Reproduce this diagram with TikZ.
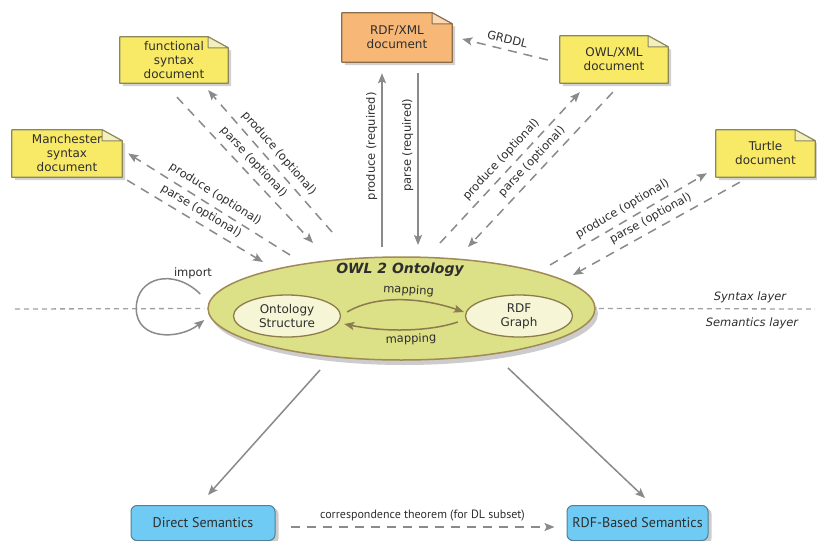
\documentclass[tikz,border=0pt]{standalone}
\usepackage{fontspec}
\setmainfont{DejaVu Sans}[ItalicFont={DejaVu Sans Oblique},BoldFont={DejaVu Sans Bold},BoldItalicFont={DejaVu Sans Bold Oblique}]
\newfontfamily\ptsans{PT Sans}
\usetikzlibrary{arrows.meta,shapes.geometric,backgrounds}
\definecolor{docfill}{HTML}{F8EA66}
\definecolor{docline}{HTML}{8C8758}
\definecolor{foldfill}{HTML}{F4F0BE}
\definecolor{rdffill}{HTML}{F7B877}
\definecolor{rdfline}{HTML}{8A6D4D}
\definecolor{rdffold}{HTML}{FAD9B4}
\definecolor{ontofill}{HTML}{DCE086}
\definecolor{ontoline}{HTML}{A08A55}
\definecolor{innerfill}{HTML}{F6F6D6}
\definecolor{innerline}{HTML}{8E7C4C}
\definecolor{mapcol}{HTML}{8C7A50}
\definecolor{semfill}{HTML}{6FCBF3}
\definecolor{semline}{HTML}{527F98}
\definecolor{conn}{HTML}{8A8A8A}
\definecolor{layer}{HTML}{A0A0A0}
\definecolor{ink}{HTML}{2E2E2E}
\newcommand\mydocshape[4]{%
  \fill[black,opacity=.18] ([shift={(3,3)}]#1.south west) -- ([shift={(3,3)}]#1.north west) -- ([shift={(-17,3)}]#1.north east) -- ([shift={(3,14)}]#1.north east) -- ([shift={(3,3)}]#1.south east) -- cycle;
  \filldraw[fill=#2, draw=#3, line width=1.2pt, line join=round] (#1.south west) -- (#1.north west) -- ([xshift=-20pt]#1.north east) -- ([yshift=-11pt]#1.north east) -- (#1.south east) -- cycle;
  \filldraw[fill=#4, draw=#3, line width=1pt, line join=round] ([xshift=-20pt]#1.north east) -- ([xshift=-20pt,yshift=-11pt]#1.north east) -- ([yshift=-11pt]#1.north east) -- cycle;
}
\begin{document}
\begin{tikzpicture}[x=1pt,y=-1pt,
  lbl/.style={font=\fontsize{11.5}{13}\selectfont, text=ink},
  doctxt/.style={font=\fontsize{12}{14}\selectfont, text=ink, align=center, inner sep=0pt},
  optline/.style={draw=conn, line width=1.5pt, dash pattern=on 9pt off 7pt},
  reqline/.style={draw=conn, line width=1.5pt},
  mapline/.style={draw=mapcol, line width=1.5pt},
  layerline/.style={draw=layer, line width=1.3pt, dash pattern=on 5pt off 4pt},
  tip/.style={-{Stealth[length=10pt,width=8pt,inset=2pt]}},
  semantic/.style={rounded corners=6pt, fill=semfill, draw=semline, line width=1pt, text=ink, font=\ptsans\fontsize{14}{16}\selectfont},
  inner/.style={ellipse, inner sep=0pt, fill=innerfill, draw=innerline, line width=1.3pt, doctxt}
]
\useasboundingbox (0,0) rectangle (817,541);
% layer separator
\coordinate (layL) at (15,309);
\coordinate (layR) at (815,309);
\node[ellipse, minimum width=387pt, minimum height=103pt, inner sep=0pt, fill=ontofill, draw=ontoline, line width=1.5pt] (onto) at (401.5,308.5) {};
\draw[layerline] (layL) -- ([xshift=-3pt]onto.west);
\draw[layerline] ([xshift=3pt]onto.east) -- (layR);
\node[font=\itshape\fontsize{11.5}{13}\selectfont, text=ink] (syn) at (750,297) {Syntax layer};
\node[font=\itshape\fontsize{11.5}{13}\selectfont, text=ink] (sem) at (752,323) {Semantics layer};

% documents
\node[doctxt, minimum width=108pt, minimum height=46pt] (fun) at (174,60) {functional\\syntax\\document};
\node[doctxt, minimum width=110pt, minimum height=47pt] (man) at (67,153.5) {Manchester\\syntax\\document};
\node[doctxt, minimum width=110pt, minimum height=49pt] (rdfx) at (397,37.5) {RDF/XML\\document};
\node[doctxt, minimum width=108pt, minimum height=47pt] (owx) at (614,59.5) {OWL/XML\\document};
\node[doctxt, minimum width=99pt, minimum height=47pt] (tur) at (765.5,153.5) {Turtle\\document};

% ontology
\node[font=\bfseries\itshape\fontsize{14}{16}\selectfont, text=ink] (title) at (400,270) {OWL 2 Ontology};
\node[inner, minimum width=107pt, minimum height=42pt] (os) at (287,316) {Ontology\\Structure};
\node[inner, minimum width=107pt, minimum height=42pt] (rdfg) at (519,316) {RDF\\Graph};

% semantics
\node[semantic, minimum width=144pt, minimum height=35pt] (ds) at (203,523) {Direct Semantics};
\node[semantic, minimum width=141pt, minimum height=35pt] (rs) at (637.5,523) {RDF-Based Semantics};

\begin{scope}[on background layer]
  \mydocshape{fun}{docfill}{docline}{foldfill}
  \mydocshape{man}{docfill}{docline}{foldfill}
  \mydocshape{rdfx}{rdffill}{rdfline}{rdffold}
  \mydocshape{owx}{docfill}{docline}{foldfill}
  \mydocshape{tur}{docfill}{docline}{foldfill}
  \fill[black,opacity=.2] ([shift={(3,5)}]onto.center) ellipse [x radius=193.5, y radius=51.5];
  \fill[black,opacity=.2,rounded corners=6pt] ([shift={(3,3)}]ds.south west) rectangle ([shift={(3,3)}]ds.north east);
  \fill[black,opacity=.2,rounded corners=6pt] ([shift={(3,3)}]rs.south west) rectangle ([shift={(3,3)}]rs.north east);
\end{scope}

% import loop
\draw[reqline, tip] ([shift={(-7,-14.5)}]onto.west) .. controls +(-26,-26) and +(0,-32) .. ([shift={(-71,0)}]onto.west)
  .. controls +(0,32) and +(-25,20) .. ([shift={(-3,11.5)}]onto.west);
\node[lbl] (imp) at (193,273) {import};

% mapping
\draw[mapline, tip] ([shift={(6,-4)}]os.east) .. controls +(30,-18) and +(-40,-14) .. ([shift={(-1,-4)}]rdfg.west)
  node[lbl, pos=.55, sloped, above=0pt] {mapping};
\draw[mapline, tip] ([shift={(-7,6)}]rdfg.west) .. controls +(-30,10) and +(40,8) .. ([shift={(3,8)}]os.east)
  node[lbl, pos=.45, sloped, below=0pt] {mapping};

% functional
\draw[optline, tip] ([shift={(-69.5,-76.5)}]onto.center) -- ([shift={(-20,7)}]fun.south east)
  node[lbl, midway, sloped, above=2pt] {produce (optional)};
\draw[optline, tip] ([shift={(3,14)}]fun.south) -- ([shift={(-88.5,-65.5)}]onto.center)
  node[lbl, midway, sloped, above=2pt] {parse (optional)};
% manchester
\draw[optline, tip] ([shift={(-111.5,-53.5)}]onto.center) -- ([shift={(6,0)}]man.east)
  node[lbl, midway, sloped, above=2pt] {produce (optional)};
\draw[optline, tip] ([shift={(5,3)}]man.south east) -- ([shift={(-138.5,-46.5)}]onto.center)
  node[lbl, midway, sloped, above=2pt] {parse (optional)};
% rdf/xml
\draw[reqline, tip] ([shift={(-19.5,-61.5)}]onto.center) -- ([shift={(-15,11)}]rdfx.south)
  node[lbl, pos=.58, rotate=90, anchor=south, inner sep=4pt] {produce (required)};
\draw[reqline, tip] ([shift={(21,11)}]rdfx.south) -- ([shift={(16.5,-63.5)}]onto.center)
  node[lbl, pos=.42, rotate=90, anchor=south, inner sep=4pt] {parse (required)};
% owl/xml
\draw[optline, tip] ([shift={(38.5,-65.5)}]onto.center) -- ([shift={(20,9)}]owx.south west)
  node[lbl, midway, sloped, above=2pt] {produce (optional)};
\draw[optline, tip] ([shift={(53,9)}]owx.south west) -- ([shift={(66.5,-61.5)}]onto.center)
  node[lbl, midway, sloped, above=2pt] {parse (optional)};
% turtle
\draw[optline, tip] ([shift={(148.5,-43.5)}]onto.center) -- ([shift={(-9,-4)}]tur.south west)
  node[lbl, midway, sloped, above=2pt] {produce (optional)};
\draw[optline, tip] ([shift={(24,5)}]tur.south west) -- ([shift={(171.5,-33.5)}]onto.center)
  node[lbl, midway, sloped, above=2pt] {parse (optional)};
% GRDDL
\draw[optline, tip] ([shift={(-12,0.5)}]owx.west) -- ([shift={(10,1.5)}]rdfx.east)
  node[lbl, midway, sloped, above=2pt] {GRDDL};

% semantics arrows
\draw[reqline, tip] ([shift={(-81.5,61.5)}]onto.center) -- ([shift={(5,-10)}]ds.north);
\draw[reqline, tip] ([shift={(106.5,59.5)}]onto.center) -- ([shift={(7.5,-7)}]rs.north);
\draw[optline, tip] ([shift={(15,4)}]ds.east) -- ([shift={(-12,4)}]rs.west)
  node[midway, above=2pt, text=ink, font=\ptsans\fontsize{12}{14}\selectfont] {correspondence theorem (for DL subset)};
\end{tikzpicture}
\end{document}
